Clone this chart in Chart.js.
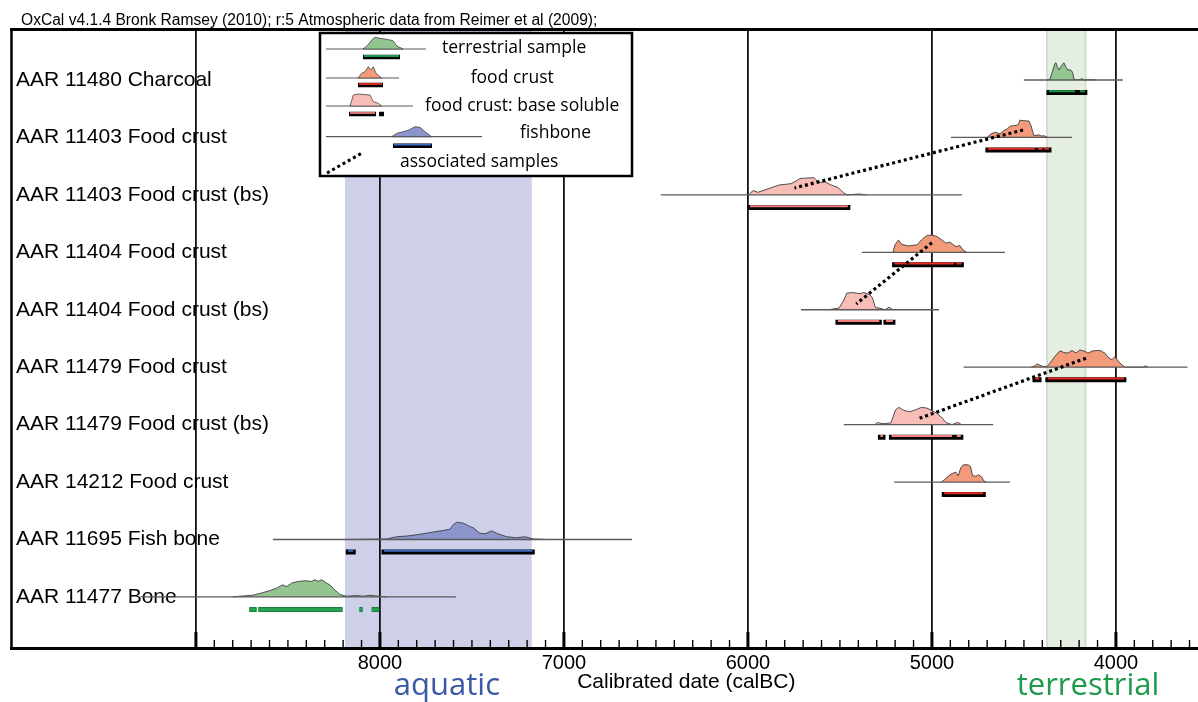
<!DOCTYPE html>
<html>
<head>
<meta charset="utf-8">
<title>OxCal calibrated dates</title>
<script src="https://cdn.jsdelivr.net/npm/chart.js@4.4.1/dist/chart.umd.min.js"></script>
<style>
 html,body{margin:0;background:#fff}
 canvas{display:block}
</style>
</head>
<body>
<canvas id="oxcal" width="1198" height="702"></canvas>
<script>
/* ---------------- data (years calBC, probability relative to each peak) ---------------- */
const SAMPLES=["AAR 11480 Charcoal","AAR 11403 Food crust","AAR 11403 Food crust (bs)","AAR 11404 Food crust",
 "AAR 11404 Food crust (bs)","AAR 11479 Food crust","AAR 11479 Food crust (bs)","AAR 14212 Food crust",
 "AAR 11695 Fish bone","AAR 11477 Bone"];
const KINDS=["terr","crust","bs","crust","bs","crust","bs","crust","fish","bone"];

// extent of each plotted distribution
const SPANS=[[4500,3962],[4897,4239],[6473,4837],[5380,4603],[5712,4962],[4828,3611],[5479,4667],[5205,4576],[8582,6630],[9300,7587]];

const yr11480=[4372,4359,4345,4332,4326,4318,4310,4298,4283,4272,4261,4245,4236,4228,4215,4196,4185,4174,4140,4110];
const p11480 =[0,0.05,0.5,0.95,1.0,0.75,0.58,0.8,1.0,0.75,0.58,0.58,0.45,0.05,0,0.02,0.08,0,0.02,0];
const yr11403=[4701,4679,4658,4640,4630,4609,4590,4576,4543,4530,4522,4500,4473,4462,4446,4418,4405,4391,4370];
const p11403 =[0,0.2,0.3,0.25,0.2,0.4,0.5,0.65,0.7,0.75,1.0,0.97,0.95,0.7,0.1,0.15,0.08,0.1,0];
const yr11403bs=[5995,5973,5946,5891,5832,5766,5739,5717,5641,5614,5581,5549,5511,5478,5462,5397,5353];
const p11403bs =[0,0.25,0.15,0.35,0.57,0.65,0.8,0.95,1.0,0.72,0.75,0.58,0.43,0.1,0,0.05,0];
const yr11404=[5212,5201,5182,5165,5130,5081,5057,5027,5000,4973,4946,4924,4902,4870,4848,4832,4810];
const p11404 =[0,0.42,0.72,0.47,0.37,0.43,0.72,0.98,1.0,0.92,0.72,0.53,0.59,0.33,0.39,0.13,0];
const yr11404bs=[5560,5535,5505,5478,5462,5431,5391,5370,5337,5323,5307,5288,5255,5233,5212];
const p11404bs =[0,0.05,0.1,0.57,0.97,1.0,0.93,1.0,0.87,0.68,0.12,0.1,0,0.15,0];
const yr11479=[4460,4440,4429,4400,4375,4359,4332,4304,4283,4261,4239,4217,4196,4168,4152,4125,4087,4060,4043,4022,4005,3989,3967,3951,3853,3840,3826];
const p11479 =[0,0.08,0.19,0.05,0.04,0.23,0.62,0.95,0.85,0.82,0.97,0.82,1.0,0.92,0.82,0.95,0.97,0.82,0.58,0.43,0.62,0.36,0.13,0,0,0.08,0];
const yr11479bs=[5310,5296,5266,5223,5198,5179,5152,5120,5089,5057,5027,5000,4974,4943,4924,4891,4859,4839];
const p11479bs =[0,0.12,0.05,0.1,0.86,1.0,0.82,0.75,0.86,1.0,0.96,0.8,0.67,0.37,0.12,0,0.13,0];
const yr14212=[4950,4942,4929,4902,4884,4870,4857,4844,4830,4803,4790,4779,4761,4748,4730,4717,4703];
const p14212 =[0,0.05,0.16,0.42,0.52,0.58,0.36,0.81,1.0,1.0,0.9,0.36,0.34,0.42,0.3,0.05,0];
const yr11695=[8190,8011,7964,7909,7855,7783,7728,7701,7656,7620,7602,7583,7547,7520,7493,7457,7429,7393,7366,7311,7257,7212,7167,7094];
const p11695 =[0,0.02,0.03,0.16,0.2,0.3,0.4,0.45,0.52,0.6,0.85,1.0,0.95,0.8,0.68,0.36,0.33,0.5,0.36,0.16,0.1,0.16,0.03,0];
const yr11477=[8800,8761,8690,8636,8598,8561,8529,8507,8480,8444,8408,8371,8353,8335,8317,8290,8272,8245,8217,8181,8127,8091,8054,8027,8000,7964];
const p11477 =[0,0.04,0.1,0.25,0.37,0.51,0.7,0.6,0.8,0.9,0.94,0.9,1.0,0.9,1.0,0.8,0.7,0.4,0.14,0.04,0.08,0.04,0.1,0.06,0.04,0];

const DIST_YEARS=[yr11480,yr11403,yr11403bs,yr11404,yr11404bs,yr11479,yr11479bs,yr14212,yr11695,yr11477];
const DIST_PROB =[p11480,p11403,p11403bs,p11404,p11404bs,p11479,p11479bs,p14212,p11695,p11477];

// highest posterior density ranges
const RANGES=[
 [[4364,4223],[4196,4169]],
 [[4696,4440],[4424,4398],[4390,4364]],
 [[5989,5457]],
 [[5203,4880],[4868,4840]],
 [[5511,5286],[5250,5212]],
 [[4440,4418],[4370,3957]],
 [[5280,5266],[5220,4891],[4865,4843]],
 [[4933,4721]],
 [[8172,8145],[7978,7172]],
 [[8710,8670],[8661,8203],[8112,8094],[8045,8004]]
];

// associated samples: food crust -> its base soluble fraction
const ASSOC_FROM_ROW=[1,3,5], ASSOC_FROM_YR=[4505,5000,4163], ASSOC_FROM_P=[0.43,0.56,0.52];
const ASSOC_TO_ROW  =[2,4,6], ASSOC_TO_YR  =[5747,5411,5067], ASSOC_TO_P  =[0.4,0.34,0.37];

// shaded ranges
const AQUATIC=[8190,7175], TERRESTRIAL=[4375,4165];

const MAJOR_TICKS=[9000,8000,7000,6000,5000,4000];
const TICK_LABELS=["","8000","7000","6000","5000","4000"];
const MINOR_STEP=100, X_MIN=3554, X_MAX=10005;

const TITLE="OxCal v4.1.4 Bronk Ramsey (2010); r:5 Atmospheric data from Reimer et al (2009);";

/* ---------------- styles ---------------- */
const SANS="'Liberation Sans', Arial, sans-serif";
const SOFT="'Open Sans', 'Noto Sans', sans-serif";
const STYLE={
 terr :{fill:"#94c590",stripe:"#1f9a4c",base:"#000"},
 crust:{fill:"#f39a7a",stripe:"#ec2b25",base:"#000"},
 bs   :{fill:"#f8bdb7",stripe:"#f2807c",base:"#000"},
 fish :{fill:"#8c94cc",stripe:"#3d6cc2",base:"#000"},
 bone :{fill:"#94c590",stripe:"#27a04f",base:"#17803f"}
};
const PEAK=0.3, BAR_DY=0.218, STRIPE_DY=0.022;
const Y_MIN=-0.853, Y_MAX=9.889;

/* ---------------- datasets ---------------- */
function segs(ranges,y){
 const out=[];
 ranges.forEach(([a,b],k)=>{ if(k) out.push({x:a,y:null}); out.push({x:a,y},{x:b,y}); });
 return out;
}
const sets=[];
SAMPLES.forEach((name,i)=>{
 const st=STYLE[KINDS[i]];
 sets.push({label:name+" dist",data:DIST_YEARS[i].map((x,k)=>({x,y:i-DIST_PROB[i][k]*PEAK})),
   fill:{value:i},backgroundColor:st.fill,borderColor:"#3d3d3d",borderWidth:0.9});
 sets.push({label:name+" base",data:SPANS[i].map(x=>({x,y:i})),borderColor:"#5a5a5a",borderWidth:1.3});
 if(KINDS[i]==="bone"){
   sets.push({label:name+" hpd",data:segs(RANGES[i],i+BAR_DY),borderColor:st.base,borderWidth:5,borderCapStyle:"butt"});
   sets.push({label:name+" hpd2",data:segs(RANGES[i],i+BAR_DY),borderColor:st.stripe,borderWidth:3,borderCapStyle:"butt"});
 }else{
   sets.push({label:name+" hpd",data:segs(RANGES[i],i+BAR_DY),borderColor:st.base,borderWidth:5,borderCapStyle:"square"});
   sets.push({label:name+" hpd2",data:segs(RANGES[i],i+BAR_DY-STRIPE_DY),borderColor:st.stripe,borderWidth:2,borderCapStyle:"butt"});
 }
});
ASSOC_FROM_ROW.forEach((r,k)=>{
 sets.push({label:"assoc "+k,data:[{x:ASSOC_FROM_YR[k],y:r-ASSOC_FROM_P[k]*PEAK},{x:ASSOC_TO_YR[k],y:ASSOC_TO_ROW[k]-ASSOC_TO_P[k]*PEAK}],
   borderColor:"#000",borderWidth:3.2,borderDash:[3,3],borderCapStyle:"butt"});
});
sets.forEach((d,k)=>{ d.order=sets.length-k; d.pointRadius=0; d.tension=0; d.spanGaps=false; if(!d.fill) d.fill=false; });

const ticks=[];
for(let v=MAJOR_TICKS[0]; v>=X_MIN; v-=MINOR_STEP) ticks.push({value:v});
const isMajor=v=>MAJOR_TICKS.includes(v);

/* ---------------- decorations ---------------- */
function poly(ctx,pts,ox,oy,fill){
 ctx.beginPath();
 pts.forEach(([x,y],k)=>k?ctx.lineTo(ox+x,oy+y):ctx.moveTo(ox+x,oy+y));
 ctx.closePath(); ctx.fillStyle=fill; ctx.fill();
 ctx.strokeStyle="#444"; ctx.lineWidth=0.8; ctx.stroke();
}
function hline(ctx,x1,x2,y,color,w){
 ctx.beginPath(); ctx.moveTo(x1,y); ctx.lineTo(x2,y); ctx.strokeStyle=color; ctx.lineWidth=w; ctx.stroke();
}
function legendBar(ctx,x1,x2,y,stripe){
 hline(ctx,x1,x2,y,"#000",4.5); hline(ctx,x1+1,x2-1,y-1,stripe,1.8);
}

const oxcalDeco={
 id:"oxcalDeco",
 beforeDraw(chart){
   const {ctx,chartArea:a,scales:{x}}=chart;
   ctx.save();
   // aquatic / terrestrial bands
   ctx.fillStyle="#cdd0e8";
   let l=x.getPixelForValue(AQUATIC[0]), r=x.getPixelForValue(AQUATIC[1]);
   ctx.fillRect(l,a.top,r-l,a.bottom-a.top);
   l=x.getPixelForValue(TERRESTRIAL[0]); r=x.getPixelForValue(TERRESTRIAL[1]);
   ctx.fillStyle="#e4efe2"; ctx.fillRect(l,a.top,r-l,a.bottom-a.top);
   ctx.strokeStyle="#cbd6c9"; ctx.lineWidth=1.5;
   [l,r].forEach(px=>{ctx.beginPath();ctx.moveTo(px,a.top);ctx.lineTo(px,a.bottom);ctx.stroke();});
   // header
   ctx.fillStyle="#000"; ctx.font="15.6px "+SANS; ctx.textBaseline="alphabetic"; ctx.textAlign="left";
   ctx.fillText(TITLE,21,25);
   ctx.restore();
 },
 afterDraw(chart){
   const {ctx,chartArea:a,scales:{x}}=chart;
   ctx.save();
   // inner tick marks
   x.ticks.forEach(t=>{
     const px=x.getPixelForValue(t.value), maj=isMajor(t.value);
     ctx.beginPath(); ctx.moveTo(px,a.bottom); ctx.lineTo(px,a.bottom-(maj?16:8));
     ctx.strokeStyle="#000"; ctx.lineWidth=maj?3:1.4; ctx.stroke();
   });
   // frame
   hline(ctx,10,chart.width,29.5,"#000",3);
   ctx.beginPath(); ctx.moveTo(11.5,28); ctx.lineTo(11.5,a.bottom+1.5); ctx.lineWidth=2.5; ctx.stroke();
   // axis caption and band names
   ctx.textBaseline="alphabetic"; ctx.textAlign="center";
   ctx.fillStyle="#000"; ctx.font="21px "+SANS;
   ctx.fillText("Calibrated date (calBC)",x.getPixelForValue(6335),688);
   ctx.font="31px "+SOFT;
   ctx.fillStyle="#3b58a8"; ctx.fillText("aquatic",x.getPixelForValue(7636),695);
   ctx.fillStyle="#1d9a4c"; ctx.fillText("terrestrial",x.getPixelForValue(4152),695);
   // legend box
   const L=320,T=33;
   ctx.fillStyle="#fff"; ctx.fillRect(L,T,312,143);
   ctx.strokeStyle="#000"; ctx.lineWidth=2.5; ctx.strokeRect(L,T,312,143);
   hline(ctx,L+6,L+106,T+16,"#5a5a5a",1.2);
   poly(ctx,[[43,16],[48,12],[51.7,7],[55,4.3],[60,5.3],[66.7,6.3],[73,7.7],[76.7,13],[81.7,15.3],[83,16]],L,T,STYLE.terr.fill);
   legendBar(ctx,L+43,L+80,T+24,STYLE.terr.stripe);
   hline(ctx,L+6,L+79,T+45,"#5a5a5a",1.2);
   poly(ctx,[[38,45],[41.7,40.3],[45,38.7],[48.3,33.7],[50.7,37],[53.3,33.7],[56,40.3],[60,43.7],[61.7,45]],L,T,STYLE.crust.fill);
   legendBar(ctx,L+38,L+63,T+52,STYLE.crust.stripe);
   hline(ctx,L+6,L+93,T+73,"#5a5a5a",1.2);
   poly(ctx,[[30,73],[33.3,62],[38.3,61],[50,62],[53.3,68.7],[58.3,70.3],[61.7,73]],L,T,STYLE.bs.fill);
   legendBar(ctx,L+29,L+56,T+81,STYLE.bs.stripe); hline(ctx,L+59,L+64,T+81,"#000",4.5);
   hline(ctx,L+6,L+162,T+103.7,"#5a5a5a",1.2);
   poly(ctx,[[71.7,103.7],[76.7,100.3],[83.3,98.7],[88.3,97.3],[95,93.7],[100,94.3],[105,98.7],[111.7,103.7]],L,T,STYLE.fish.fill);
   legendBar(ctx,L+73,L+112,T+112.7,STYLE.fish.stripe);
   ctx.beginPath(); ctx.moveTo(L+7,T+140); ctx.lineTo(L+42,T+120);
   ctx.setLineDash([3,3]); ctx.strokeStyle="#000"; ctx.lineWidth=3; ctx.stroke(); ctx.setLineDash([]);
   ctx.fillStyle="#000"; ctx.font="17.5px "+SOFT; ctx.textAlign="left";
   ctx.fillText("terrestrial sample",L+122,T+20.3);
   ctx.fillText("food crust",L+150.7,T+50.3);
   ctx.fillText("food crust: base soluble",L+105,T+77.7);
   ctx.fillText("fishbone",L+200,T+105.3);
   ctx.fillText("associated samples",L+80,T+133.7);
   ctx.restore();
 }
};

/* ---------------- chart ---------------- */
new Chart(document.getElementById("oxcal"),{
 type:"line",
 data:{datasets:sets},
 options:{
   responsive:false,animation:false,devicePixelRatio:1,
   layout:{padding:{left:11,right:0,top:31,bottom:24}},
   plugins:{legend:{display:false},tooltip:{enabled:false}},
   scales:{
     x:{type:"linear",reverse:true,min:X_MIN,max:X_MAX,z:1,
       afterBuildTicks:s=>{s.ticks=ticks.map(t=>({value:t.value}));},
       ticks:{autoSkip:false,maxRotation:0,padding:3,color:"#000",font:{family:SANS,size:20},
         callback:v=>{const k=MAJOR_TICKS.indexOf(v);return k<0?"":TICK_LABELS[k];}},
       grid:{drawTicks:false,
         color:c=>c.tick&&isMajor(c.tick.value)?"#111":"rgba(0,0,0,0)",
         lineWidth:c=>c.tick&&isMajor(c.tick.value)?1.8:0},
       border:{display:true,color:"#000",width:3}},
     y:{type:"linear",reverse:true,min:Y_MIN,max:Y_MAX,
       afterBuildTicks:s=>{s.ticks=SAMPLES.map((_,i)=>({value:i}));},
       afterFit:s=>{s.width=0;},
       grid:{display:false,drawTicks:false},border:{display:false},
       ticks:{mirror:true,padding:5,color:"#000",font:{family:SANS,size:21},callback:v=>SAMPLES[v]}}
   }
 },
 plugins:[oxcalDeco]
});
</script>
</body>
</html>
